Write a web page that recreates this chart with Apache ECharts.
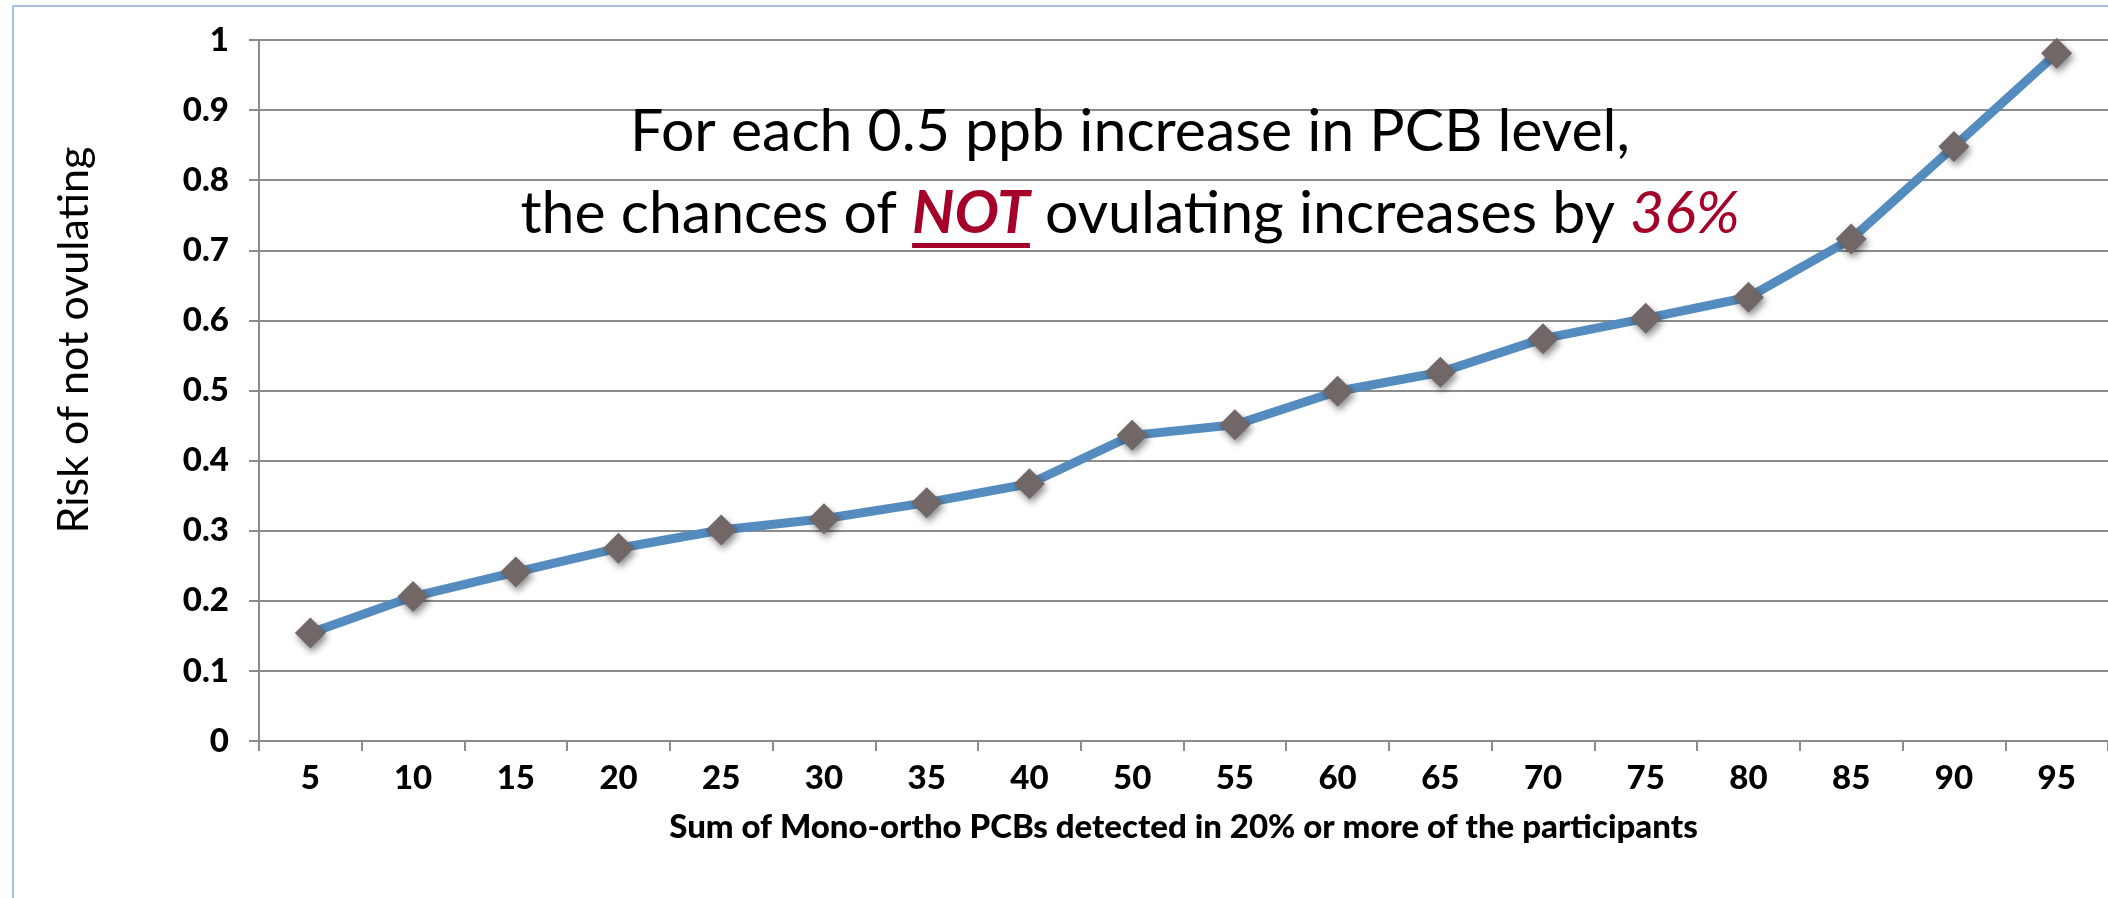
<!DOCTYPE html>
<html>
<head>
<meta charset="utf-8">
<script src="https://cdn.jsdelivr.net/npm/echarts@6/dist/echarts.min.js"></script>
<style>
  html, body { margin: 0; padding: 0; background: #fff; }
  #chart { width: 2108px; height: 898px; }
</style>
</head>
<body>
<div id="chart"></div>
<script>
// x categories: sum of mono-ortho PCBs (percentile)
const categories = ['5', '10', '15', '20', '25', '30', '35', '40', '50', '55', '60', '65', '70', '75', '80', '85', '90', '95'];
// risk of not ovulating
const risk = [0.154, 0.206, 0.241, 0.275, 0.301, 0.317, 0.340, 0.367, 0.436, 0.451, 0.499, 0.526, 0.574, 0.603, 0.633, 0.716, 0.848, 0.981];

const xName = 'Sum of Mono-ortho PCBs detected in 20% or more of the participants';
const yName = 'Risk of not ovulating';
const line1 = 'For each 0.5 ppb increase in PCB level,';
const line2Parts = ['the chances of ', 'NOT', ' ovulating increases by ', '36%'];

const FONT = 'Lato, "Open Sans", sans-serif';
const RED = '#A5002A';
const GRID_GRAY = '#8c8c8c';
const noteSize = 59;
const noteX = 1130;

// measure text so the underline sits under NOT
const ctx = document.createElement('canvas').getContext('2d');
function measure(str, style) {
  ctx.font = style + ' ' + noteSize + 'px ' + FONT;
  return ctx.measureText(str).width;
}
const w0 = measure(line2Parts[0], 'normal normal');
const w1 = measure(line2Parts[1], 'italic bold');
const w2 = measure(line2Parts[2], 'normal normal');
const w3 = measure(line2Parts[3], 'italic normal');
const totalW = w0 + w1 + w2 + w3;
const line2Y = 214;
const ulX = noteX - totalW / 2 + w0;

const chart = echarts.init(document.getElementById('chart'));

chart.setOption({
  animation: false,
  backgroundColor: '#fff',
  grid: { left: 259, top: 40, width: 1861, height: 701 },
  xAxis: {
    type: 'category',
    data: categories,
    boundaryGap: true,
    name: xName,
    nameLocation: 'middle',
    nameGap: 70,
    nameTextStyle: { fontFamily: FONT, fontWeight: 900, fontSize: 33, color: '#000' },
    axisLine: { show: true, lineStyle: { color: GRID_GRAY, width: 2 } },
    axisTick: { show: true, length: 10, lineStyle: { color: GRID_GRAY, width: 2 } },
    axisLabel: { margin: 21, fontFamily: FONT, fontWeight: 900, fontSize: 33, color: '#000' }
  },
  yAxis: {
    type: 'value',
    min: 0,
    max: 1,
    interval: 0.1,
    axisLine: { show: true, lineStyle: { color: GRID_GRAY, width: 2 } },
    axisTick: { show: true, length: 10, lineStyle: { color: GRID_GRAY, width: 2 } },
    splitLine: { show: true, lineStyle: { color: GRID_GRAY, width: 2 } },
    axisLabel: { margin: 30, fontFamily: FONT, fontWeight: 900, fontSize: 33, color: '#000' }
  },
  series: [{
    type: 'line',
    data: risk,
    symbol: 'diamond',
    symbolSize: 31,
    showAllSymbol: true,
    lineStyle: { color: '#558CBF', width: 9 },
    itemStyle: {
      color: '#716767',
      shadowBlur: 7,
      shadowColor: 'rgba(0,0,0,0.45)',
      shadowOffsetX: 2,
      shadowOffsetY: 4
    },
    z: 3
  }],
  graphic: [
    {
      type: 'rect',
      silent: true,
      z: -10,
      shape: { x: 13, y: 6, width: 2300, height: 1100 },
      style: { fill: 'none', stroke: '#A7C1DD', lineWidth: 2 }
    },
    {
      type: 'text',
      x: 74,
      y: 340,
      rotation: Math.PI / 2,
      style: { text: yName, fontFamily: FONT, fontSize: 43, fill: '#000', align: 'center', verticalAlign: 'middle' }
    },
    {
      type: 'text',
      x: noteX,
      y: 132,
      z: 10,
      style: { text: line1, fontFamily: FONT, fontSize: noteSize, fill: '#000', align: 'center', verticalAlign: 'middle' }
    },
    {
      type: 'text',
      x: noteX,
      y: line2Y,
      z: 10,
      style: {
        text: '{n|' + line2Parts[0] + '}{b|' + line2Parts[1] + '}{n|' + line2Parts[2] + '}{p|' + line2Parts[3] + '}',
        align: 'center',
        verticalAlign: 'middle',
        rich: {
          n: { fontFamily: FONT, fontSize: noteSize, fill: '#000' },
          b: { fontFamily: FONT, fontSize: noteSize, fontWeight: 'bold', fontStyle: 'italic', fill: RED },
          p: { fontFamily: FONT, fontSize: noteSize, fontStyle: 'italic', fill: RED }
        }
      }
    },
    {
      type: 'rect',
      z: 10,
      shape: { x: ulX, y: line2Y + 29, width: w1, height: 5 },
      style: { fill: RED }
    }
  ]
});
</script>
</body>
</html>
